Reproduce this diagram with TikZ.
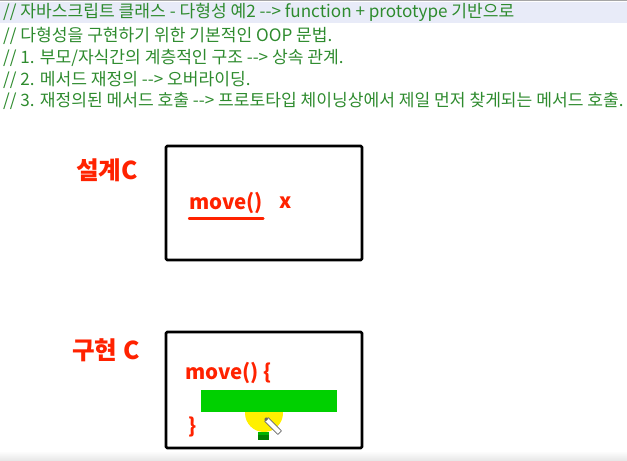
\documentclass[tikz,border=0pt]{standalone}
\usepackage{fontspec}
\setmainfont{Noto Sans CJK KR}
\usetikzlibrary{positioning}
\definecolor{codegreen}{HTML}{2E8B2E}
\definecolor{band}{HTML}{E8EBF8}
\definecolor{pen}{HTML}{FF2200}
\definecolor{barfill}{HTML}{00D000}
\definecolor{glow}{HTML}{FFF000}

\begin{document}
\begin{tikzpicture}[
  x=.03cm,y=-.03cm,
  line cap=round,line join=round,
  comment/.style={font=\fontsize{14.6}{16}\selectfont, text=codegreen, anchor=west, inner sep=0pt},
  hand/.style={font=\fontsize{17.5}{19}\selectfont\bfseries, text=pen, inner sep=0pt},
  title/.style={hand, font=\fontsize{21}{23}\selectfont\bfseries},
  frame/.style={draw=black, line width=2.3pt, rounded corners=1pt},
  stroke/.style={draw=pen, line width=2pt}
]
\useasboundingbox (0,0) rectangle (627,461);

% editor strip
\fill[band] (0,2) rectangle (627,23);
\fill[black!35] (0,0) rectangle (627,1.5);
\shade[top color=white,bottom color=black!10] (0,451) rectangle (627,461);

% comment lines
\node[comment] (c1) at (3,12) {// 자바스크립트 클래스 - 다형성 예2 -{}-> function + prototype 기반으로};
\node[comment] (c2) at (3,36) {// 다형성을 구현하기 위한 기본적인 OOP 문법.};
\node[comment] (c3) at (3,58) {// 1. 부모/자식간의 계층적인 구조 -{}-> 상속 관계.};
\node[comment] (c4) at (3,80) {// 2. 메서드 재정의 -{}-> 오버라이딩.};
\node[comment] (c5) at (3,101) {// 3. 재정의된 메서드 호출 -{}-> 프로토타입 체이닝상에서 제일 먼저 찾게되는 메서드 호출.};

% design box
\node[title] (design) at (107,170) {설계C};
\draw[frame] (166,146) rectangle (362,260);
\node[hand,anchor=west] (m1) at (189,203) {move()};
\node[hand,right=14pt of m1] (m1x) {x};
\draw[stroke] ([yshift=-4pt]m1.south west) -- ([yshift=-4pt]m1.south east);

% implementation box
\node[title] (impl) at (106,350) {구현 C};
\draw[frame] (166,332) rectangle (362,448);
\node[hand,anchor=west] (m2) at (185,373) {move() \{};
\fill[glow] (264,413) circle (19);
\fill[barfill] (201,390) rectangle (337,412);
\node[hand] (close) at (193,427) {\}};

% cursor
\fill[green!50!black] (258,432) rectangle (269,440);
\fill[green!70!black] (258,432) rectangle (269,435);
\node[draw=black!60,fill=white,line width=.6pt,rotate=-45,minimum width=16pt,minimum height=4.5pt,inner sep=0pt] (pencil) at (273,426) {};
\fill[black!60] (pencil.west) circle (1.6pt);
\end{tikzpicture}
\end{document}
